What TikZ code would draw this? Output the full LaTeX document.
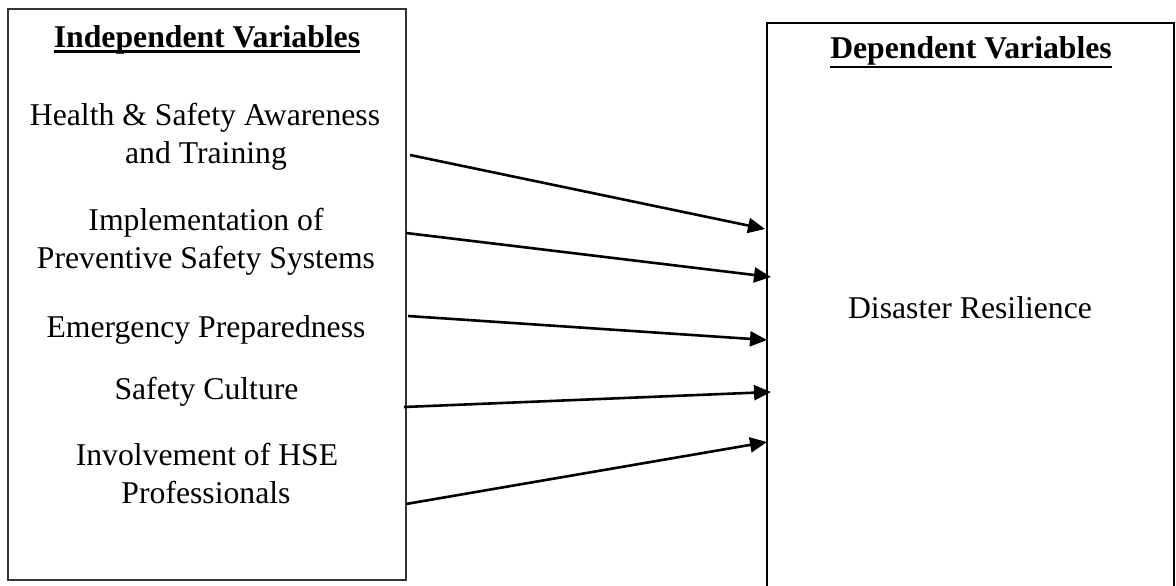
\documentclass[tikz,border=0pt]{standalone}
\usepackage{fontspec}
\setmainfont{Liberation Serif}
\usetikzlibrary{arrows.meta}
\begin{document}
\begin{tikzpicture}[x=1pt,y=-1pt,
  frame/.style={draw=black!80,line width=2pt},
  lbl/.style={inner sep=0pt,anchor=base,font=\fontsize{31.7}{38}\selectfont},
  ttl/.style={lbl,font=\fontsize{31.7}{38}\selectfont\bfseries},
  uline/.style={line width=2.8pt},
  link/.style={line width=2.6pt,-{Triangle[length=17pt,width=15pt]}}]
\useasboundingbox (0,0) rectangle (1176,586);
% boxes
\node[frame,minimum width=398pt,minimum height=571pt,inner sep=0pt] (L) at (207,294.5) {};
\node[frame,draw=black,minimum width=407pt,minimum height=565pt,inner sep=0pt] (R) at (970.5,305.5) {};
% titles
\node[ttl] (ti) at (207,48) {Independent Variables};
\draw[uline] ([yshift=-3.5pt]ti.base west) -- ([yshift=-3.5pt]ti.base east);
\node[ttl] (td) at (971,59) {Dependent Variables};
\draw[uline] ([yshift=-8pt]td.base west) -- ([yshift=-8pt]td.base east);
% independent variables
\node[lbl] (h1) at (205,125) {Health \& Safety Awareness};
\node[lbl] (h2) at (206,163) {and Training};
\node[lbl] (i1) at (206,230) {Implementation of};
\node[lbl] (i2) at (206,268) {Preventive Safety Systems};
\node[lbl] (ep) at (206,337) {Emergency Preparedness};
\node[lbl] (sc) at (206.5,399) {Safety Culture};
\node[lbl] (v1) at (207,465) {Involvement of HSE};
\node[lbl] (v2) at (206,503) {Professionals};
% dependent variable
\node[lbl] (dr) at (970,318) {Disaster Resilience};
% connector ends
\coordinate (s1) at (410,155);
\coordinate (s2) at (406,233);
\coordinate (s3) at (408,316);
\coordinate (s4) at (404,407);
\coordinate (s5) at (406,504);
\coordinate (e1) at (765,229);
\coordinate (e2) at (771,277);
\coordinate (e3) at (767,340);
\coordinate (e4) at (771,392);
\coordinate (e5) at (767,442);
\draw[link] (s1) -- (e1);
\draw[link] (s2) -- (e2);
\draw[link] (s3) -- (e3);
\draw[link] (s4) -- (e4);
\draw[link] (s5) -- (e5);
\end{tikzpicture}
\end{document}
